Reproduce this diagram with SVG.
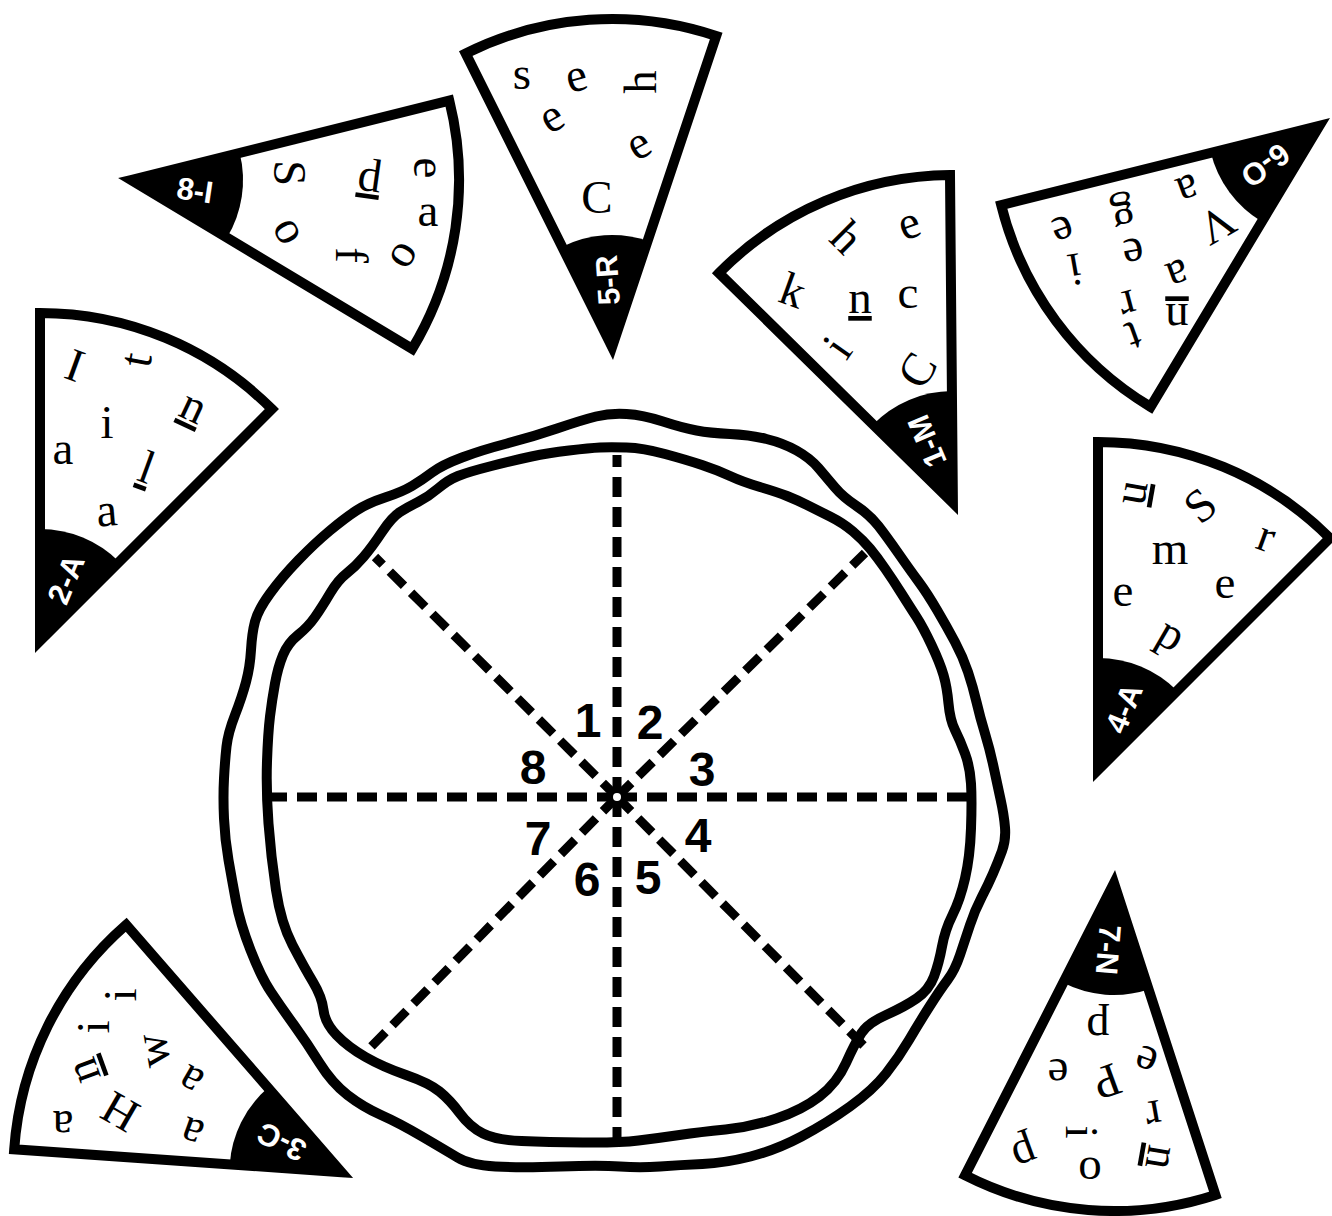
<svg xmlns="http://www.w3.org/2000/svg" width="1332" height="1216" viewBox="0 0 1332 1216">
<style>
.w{fill:#fff;stroke:#000;stroke-width:10;stroke-linejoin:miter}
.b{fill:#000}
.lb{font-family:"Liberation Sans",Arial,sans-serif;font-weight:bold;font-size:31px;fill:#fff;text-anchor:middle}
.lt{font-family:"Liberation Serif","Times New Roman",serif;font-size:47px;fill:#000;text-anchor:middle}
.u{text-decoration:underline}
.num{font-family:"Liberation Sans",Arial,sans-serif;font-weight:bold;font-size:48px;fill:#000;text-anchor:middle}
.ray{stroke:#000;stroke-width:9;stroke-dasharray:20 10;fill:none}
.crust{fill:none;stroke:#000;stroke-width:10;stroke-linejoin:round}
</style>
<rect width="1332" height="1216" fill="#fff"/>
<g id="pizza">
<path class="crust" d="M 626.5,414 Q 643,415 663,421.5 Q 683,428 696.5,430.5 Q 710,433 730,434 Q 750,435 766.5,439 Q 783,443 796.5,450.5 Q 810,458 818.5,468 Q 827,478 835,487.5 Q 843,497 856.5,506 Q 870,515 878.5,526 Q 887,537 898.5,553.5 Q 910,570 918.5,581.5 Q 927,593 937,610 Q 947,627 955,642 Q 963,657 968,672 Q 973,687 976.5,702 Q 980,717 985,733.5 Q 990,750 993.5,766.5 Q 997,783 1000.5,799 Q 1004,815 1005,827.5 Q 1006,840 1002,851 Q 998,862 993,873.5 Q 988,885 981.5,897.5 Q 975,910 970,925 Q 965,940 960,955 Q 955,970 947.5,980 Q 940,990 929.5,1006.5 Q 919,1023 909,1040 Q 899,1057 886,1073.5 Q 873,1090 850,1106.5 Q 827,1123 801.5,1136.5 Q 776,1150 750.5,1156.5 Q 725,1163 702.5,1164 Q 680,1165 660,1166.5 Q 640,1168 620,1166.5 Q 600,1165 560.5,1166.5 Q 521,1168 495.5,1166.5 Q 470,1165 457.5,1157.5 Q 445,1150 422,1136.5 Q 399,1123 381,1115 Q 363,1107 347.5,1095 Q 332,1083 319.5,1063 Q 307,1043 294,1025 Q 281,1007 271,992 Q 261,977 250.5,950 Q 240,923 236,901.5 Q 232,880 228.5,860 Q 225,840 224,818.5 Q 223,797 224,778.5 Q 225,760 226.5,746.5 Q 228,733 235,715 Q 242,697 246,682 Q 250,667 251,650 Q 252,633 255,621.5 Q 258,610 270,593.5 Q 282,577 298.5,560 Q 315,543 330,530.5 Q 345,518 356.5,510.5 Q 368,503 385,497.5 Q 402,492 412,486 Q 422,480 432,472.5 Q 442,465 462,457.5 Q 482,450 507,443.5 Q 532,437 557,428.5 Q 582,420 596,416.5 Q 610,413 626.5,414 Z"/>
<path class="crust" d="M 626.5,447.5 Q 643,448 665,454 Q 687,460 702,465 Q 717,470 730,476 Q 743,482 760,487 Q 777,492 787,496 Q 797,500 807,505 Q 817,510 830,516.5 Q 843,523 853,531.5 Q 863,540 870,548.5 Q 877,557 885,568.5 Q 893,580 901.5,593.5 Q 910,607 916.5,617 Q 923,627 931.5,645 Q 940,663 943.5,675 Q 947,687 948.5,703.5 Q 950,720 955,730 Q 960,740 965,753.5 Q 970,767 971,783.5 Q 972,800 971,828.5 Q 970,857 965,878.5 Q 960,900 952.5,915 Q 945,930 942,946.5 Q 939,963 934,976.5 Q 929,990 916.5,998.5 Q 904,1007 886,1015 Q 868,1023 861.5,1033 Q 855,1043 846,1063 Q 837,1083 819.5,1096.5 Q 802,1110 776.5,1118.5 Q 751,1127 725.5,1129.5 Q 700,1132 679.5,1135 Q 659,1138 638.5,1140.5 Q 618,1143 582.5,1142.5 Q 547,1142 521.5,1141 Q 496,1140 483,1133.5 Q 470,1127 460,1113.5 Q 450,1100 439.5,1091.5 Q 429,1083 406,1075 Q 383,1067 365.5,1057 Q 348,1047 336.5,1035 Q 325,1023 323.5,1010 Q 322,997 313,982 Q 304,967 292.5,945 Q 281,923 276,890 Q 271,857 268.5,823.5 Q 266,790 267,761.5 Q 268,733 270,716.5 Q 272,700 275,683.5 Q 278,667 283,655 Q 288,643 298,635 Q 308,627 315,617 Q 322,607 330,593.5 Q 338,580 346.5,573.5 Q 355,567 363.5,557 Q 372,547 382,532 Q 392,517 400,512 Q 408,507 418,502 Q 428,497 438,488.5 Q 448,480 458,476 Q 468,472 491.5,466 Q 515,460 531.5,456.5 Q 548,453 569,450.5 Q 590,448 600,447.5 Q 610,447 626.5,447.5 Z"/>
</g>
<g id="connectors">
<line class="ray" x1="617" y1="797" x2="617" y2="455"/>
<line class="ray" x1="617" y1="797" x2="617" y2="1140"/>
<line class="ray" x1="617" y1="797" x2="268" y2="797"/>
<line class="ray" x1="617" y1="797" x2="975" y2="797"/>
<line class="ray" x1="617" y1="797" x2="375" y2="557"/>
<line class="ray" x1="617" y1="797" x2="865" y2="553"/>
<line class="ray" x1="617" y1="797" x2="366" y2="1052"/>
<line class="ray" x1="617" y1="797" x2="868" y2="1050"/>
<circle cx="617" cy="797" r="4" fill="#fff"/>
</g>
<g id="numbers">
<text class="num" x="588" y="737">1</text>
<text class="num" x="650" y="739">2</text>
<text class="num" x="702" y="786">3</text>
<text class="num" x="698" y="852">4</text>
<text class="num" x="648" y="894">5</text>
<text class="num" x="587" y="896">6</text>
<text class="num" x="538" y="855">7</text>
<text class="num" x="533" y="784">8</text>
</g>
<g id="slice-8-I">
<path class="w" d="M131,180 L449.3,100.6 A328,328 0 0 1 412.2,348.9 Z"/>
<path class="b" d="M131,180 L239.7,152.9 A112,112 0 0 1 227.0,237.7 Z"/>
<text class="lb" transform="translate(195,190) rotate(8.5)" y="11">8-I</text>
<text class="lt" transform="translate(290,173) rotate(90)" y="16">S</text>
<text class="lt u" transform="translate(370,175) rotate(8)" y="16">d</text>
<text class="lt" transform="translate(425,168) rotate(90)" y="11">e</text>
<text class="lt" transform="translate(428,215)" y="11">a</text>
<text class="lt" transform="translate(287,232) rotate(60)" y="11">o</text>
<text class="lt" transform="translate(352,255) rotate(90)" y="16">f</text>
<text class="lt" transform="translate(403,255) rotate(-60)" y="11">o</text>
</g>
<g id="slice-5-R">
<path class="w" d="M612.1,347 L465.7,53.5 A328,328 0 0 1 716.2,36 Z"/>
<path class="b" d="M612.1,347 L562.1,246.8 A112,112 0 0 1 647.6,240.8 Z"/>
<text class="lb" transform="translate(607.4,280.2) rotate(-94)" y="11">5-R</text>
<text class="lt" transform="translate(522,78)" y="11">s</text>
<text class="lt" transform="translate(577,80) rotate(-15)" y="11">e</text>
<text class="lt" transform="translate(640,82) rotate(-90)" y="16">h</text>
<text class="lt" transform="translate(553,120) rotate(-30)" y="11">e</text>
<text class="lt" transform="translate(640,147) rotate(-30)" y="11">e</text>
<text class="lt" transform="translate(597,197)" y="16">C</text>
</g>
<g id="slice-1-M">
<path class="w" d="M952.9,503 L719,273.1 A328,328 0 0 1 950,175 Z"/>
<path class="b" d="M952.9,503 L873,424.5 A112,112 0 0 1 951.9,391 Z"/>
<text class="lb" transform="translate(926.7,441.3) rotate(-113)" y="11">1-M</text>
<text class="lt" transform="translate(847,237) rotate(45)" y="16">h</text>
<text class="lt" transform="translate(910,227) rotate(-20)" y="11">e</text>
<text class="lt" transform="translate(793,290) rotate(20)" y="16">k</text>
<text class="lt u" transform="translate(860,302)" y="11">n</text>
<text class="lt" transform="translate(908,297)" y="11">c</text>
<text class="lt" transform="translate(837,347) rotate(-55)" y="16">i</text>
<text class="lt" transform="translate(917,370) rotate(-60)" y="16">C</text>
</g>
<g id="slice-6-O">
<path class="w" d="M1319.5,125.7 L1150.6,406.9 A328,328 0 0 1 1001.2,205.1 Z"/>
<path class="b" d="M1319.5,125.7 L1261.8,221.7 A112,112 0 0 1 1210.8,152.8 Z"/>
<text class="lb" transform="translate(1265.6,165.6) rotate(143.5)" y="11">6-O</text>
<text class="lt" transform="translate(1187,187) rotate(160)" y="11">a</text>
<text class="lt" transform="translate(1122,208) rotate(170)" y="6">g</text>
<text class="lt" transform="translate(1062,228) rotate(160)" y="11">e</text>
<text class="lt" transform="translate(1217,225) rotate(150)" y="16">V</text>
<text class="lt" transform="translate(1133,250) rotate(170)" y="11">e</text>
<text class="lt" transform="translate(1075,270) rotate(170)" y="16">i</text>
<text class="lt" transform="translate(1177,272) rotate(160)" y="11">a</text>
<text class="lt" transform="translate(1127,302) rotate(165)" y="11">r</text>
<text class="lt u" transform="translate(1177,315) rotate(180)" y="11">n</text>
<text class="lt" transform="translate(1133,335) rotate(160)" y="13">t</text>
</g>
<g id="slice-2-A">
<path class="w" d="M40,641 L40,313 A328,328 0 0 1 271.9,409.1 Z"/>
<path class="b" d="M40,641 L40,529 A112,112 0 0 1 119.2,561.8 Z"/>
<text class="lb" transform="translate(65.6,579.1) rotate(-67.5)" y="11">2-A</text>
<text class="lt" transform="translate(75,365) rotate(20)" y="16">I</text>
<text class="lt" transform="translate(138,360) rotate(-80)" y="13">t</text>
<text class="lt u" transform="translate(192,410) rotate(25)" y="11">n</text>
<text class="lt" transform="translate(107,422)" y="16">i</text>
<text class="lt" transform="translate(63,453)" y="11">a</text>
<text class="lt u" transform="translate(147,467) rotate(20)" y="16">l</text>
<text class="lt" transform="translate(107,515) rotate(-5)" y="11">a</text>
</g>
<g id="slice-4-A">
<path class="w" d="M1098,770 L1098,442 A328,328 0 0 1 1329.9,538.1 Z"/>
<path class="b" d="M1098,770 L1098,658 A112,112 0 0 1 1177.2,690.8 Z"/>
<text class="lb" transform="translate(1123.6,708.1) rotate(-67.5)" y="11">4-A</text>
<text class="lt u" transform="translate(1135,493) rotate(-80)" y="11">u</text>
<text class="lt" transform="translate(1200,505) rotate(-40)" y="16">S</text>
<text class="lt" transform="translate(1265,540) rotate(20)" y="11">r</text>
<text class="lt" transform="translate(1170,553)" y="11">m</text>
<text class="lt" transform="translate(1123,595)" y="11">e</text>
<text class="lt" transform="translate(1225,587)" y="11">e</text>
<text class="lt" transform="translate(1167,642) rotate(30)" y="6">p</text>
</g>
<g id="slice-7-N">
<path class="w" d="M1114,883 L1215.4,1194.9 A328,328 0 0 1 965.1,1175.3 Z"/>
<path class="b" d="M1114,883 L1148.6,989.5 A112,112 0 0 1 1063.2,982.8 Z"/>
<text class="lb" transform="translate(1108.7,949.8) rotate(94.5)" y="11">7-N</text>
<text class="lt" transform="translate(1098,1020) rotate(180)" y="6">p</text>
<text class="lt" transform="translate(1058,1070) rotate(180)" y="11">e</text>
<text class="lt" transform="translate(1147,1058) rotate(200)" y="11">e</text>
<text class="lt" transform="translate(1107,1082) rotate(160)" y="16">P</text>
<text class="lt" transform="translate(1153,1112) rotate(170)" y="11">r</text>
<text class="lt" transform="translate(1082,1132) rotate(90)" y="16">i</text>
<text class="lt" transform="translate(1022,1147) rotate(160)" y="6">p</text>
<text class="lt" transform="translate(1090,1168)" y="11">o</text>
<text class="lt u" transform="translate(1158,1157) rotate(100)" y="11">n</text>
</g>
<g id="slice-3-C">
<path class="w" d="M341.4,1172.2 L14.2,1149.3 A328,328 0 0 1 126.2,924.7 Z"/>
<path class="b" d="M341.4,1172.2 L229.7,1164.4 A112,112 0 0 1 267.9,1087.7 Z"/>
<text class="lb" transform="translate(281.4,1142.3) rotate(206.5)" y="11">3-C</text>
<text class="lt" transform="translate(120,995) rotate(-90)" y="16">i</text>
<text class="lt" transform="translate(93,1027) rotate(-90)" y="16">i</text>
<text class="lt" transform="translate(157,1050) rotate(-100)" y="11">w</text>
<text class="lt u" transform="translate(87,1070) rotate(-110)" y="11">n</text>
<text class="lt" transform="translate(192,1078) rotate(-150)" y="11">a</text>
<text class="lt" transform="translate(120,1112) rotate(-150)" y="16">H</text>
<text class="lt" transform="translate(63,1122) rotate(180)" y="11">a</text>
<text class="lt" transform="translate(193,1130) rotate(-160)" y="11">a</text>
</g>
</svg>
